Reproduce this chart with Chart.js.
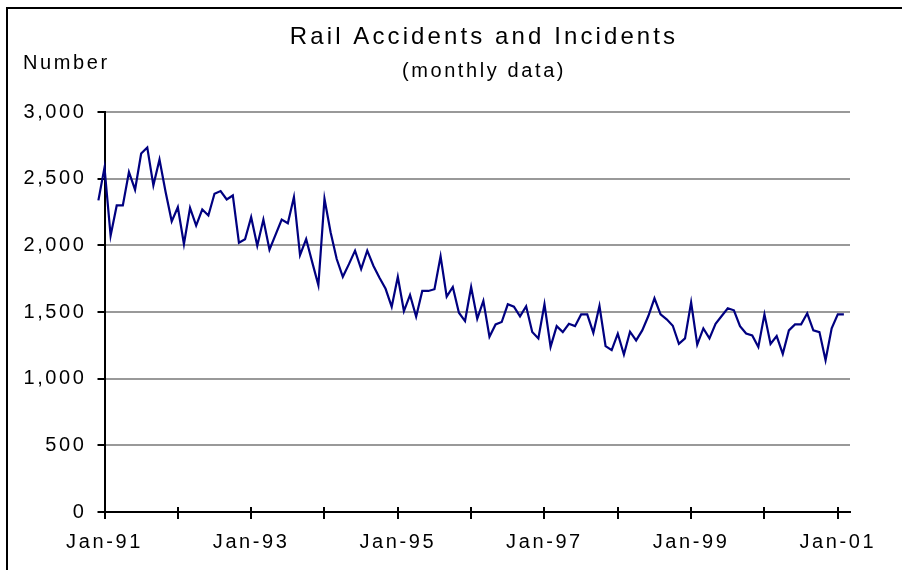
<!DOCTYPE html>
<html>
<head>
<meta charset="utf-8">
<title>Rail Accidents and Incidents</title>
<script src="https://cdn.jsdelivr.net/npm/chart.js@4.4.1/dist/chart.umd.min.js"></script>
<style>
  html, body { margin: 0; padding: 0; background: #fff; }
  #wrap { position: relative; width: 902px; height: 570px; overflow: hidden; }
  #frame { position: absolute; left: 6px; top: 7px; right: -10px; bottom: -10px;
           border-left: 2px solid #000; border-top: 2px solid #000; pointer-events: none; }
  canvas { position: absolute; left: 0; top: 0; }
</style>
</head>
<body>
<div id="wrap">
  <canvas id="chart" width="902" height="570"></canvas>
  <div id="frame"></div>
</div>
<script>
// months counted from Jan-91 (= 0); the series starts one month earlier, Dec-90
const firstMonth = -1;

// monthly counts, Dec-90 .. Feb-01
const accidents = [
  2337,
  2583, 2073, 2299, 2299, 2550, 2417, 2689, 2734, 2450, 2643, 2400, 2180, // 1991
  2286, 2010, 2281, 2148, 2269, 2224, 2387, 2407, 2344, 2374, 2020, 2045, // 1992
  2211, 1997, 2193, 1967, 2080, 2193, 2166, 2362, 1927, 2047, 1872, 1701, // 1993
  2349, 2098, 1897, 1764, 1859, 1960, 1822, 1960, 1847, 1757, 1674, 1539, // 1994
  1764, 1507, 1628, 1465, 1658, 1658, 1671, 1917, 1615, 1688, 1495, 1432, // 1995
  1688, 1450, 1583, 1314, 1407, 1425, 1558, 1540, 1467, 1543, 1350, 1302, // 1996
  1558, 1238, 1394, 1349, 1412, 1394, 1482, 1482, 1344, 1545, 1244, 1214, // 1997
  1337, 1181, 1352, 1287, 1362, 1470, 1603, 1482, 1445, 1397, 1261, 1302, // 1998
  1572, 1256, 1377, 1302, 1412, 1470, 1528, 1513, 1394, 1339, 1324, 1238, // 1999
  1482, 1261, 1319, 1186, 1362, 1407, 1407, 1490, 1362, 1349, 1138, 1377, // 2000
  1482, 1482                                                              // 2001
];

// one label every two years, tick marks every year
const yearLabels = ['Jan-91', 'Jan-93', 'Jan-95', 'Jan-97', 'Jan-99', 'Jan-01'];

const titleText = 'Rail Accidents and Incidents';
const subtitleText = '(monthly data)';
const unitText = 'Number';

const FONT = '"Liberation Sans", Arial, sans-serif';
const SPACING = 2.6;

const points = accidents.map((v, i) => ({ x: firstMonth + i, y: v }));

// title, subtitle, unit label and the upper half of the x tick marks
const headings = {
  id: 'headings',
  beforeDraw(chart) {
    chart.ctx.letterSpacing = SPACING + 'px';
  },
  afterDraw(chart) {
    const ctx = chart.ctx;
    const x = chart.scales.x;
    ctx.save();
    ctx.strokeStyle = '#000';
    ctx.lineWidth = 2;
    x.ticks.forEach(t => {
      const px = Math.round(x.getPixelForValue(t.value));
      ctx.beginPath();
      ctx.moveTo(px, x.top - 5);
      ctx.lineTo(px, x.top);
      ctx.stroke();
    });

    ctx.fillStyle = '#000';
    ctx.textBaseline = 'middle';
    ctx.textAlign = 'center';
    ctx.letterSpacing = '3.1px';
    ctx.font = '24px ' + FONT;
    ctx.fillText(titleText, 484, 37.5);

    ctx.letterSpacing = SPACING + 'px';
    ctx.font = '20px ' + FONT;
    ctx.fillText(subtitleText, 484, 71);

    ctx.textAlign = 'left';
    ctx.fillText(unitText, 23, 63);
    ctx.restore();
  }
};

new Chart(document.getElementById('chart'), {
  type: 'line',
  data: {
    datasets: [{
      data: points,
      borderColor: '#000080',
      borderWidth: 2.2,
      pointRadius: 0,
      tension: 0,
      clip: false
    }]
  },
  options: {
    responsive: false,
    animation: false,
    devicePixelRatio: 1,
    layout: { padding: { top: 112, right: 52, bottom: 5, left: 0 } },
    plugins: {
      legend: { display: false },
      tooltip: { enabled: false }
    },
    scales: {
      x: {
        type: 'linear',
        min: 0,
        max: 122,
        grid: { drawOnChartArea: false, color: '#000', lineWidth: 2, tickLength: 7 },
        border: { color: '#000', width: 2 },
        ticks: {
          stepSize: 12,
          includeBounds: false,
          autoSkip: false,
          maxRotation: 0,
          padding: 11,
          color: '#000',
          font: { family: FONT, size: 20 },
          callback: v => (v % 24 === 0 ? yearLabels[v / 24] : '')
        }
      },
      y: {
        min: 0,
        max: 3000,
        afterFit: scale => { scale.width = 104.5; },
        grid: { color: '#999', lineWidth: 2, tickColor: '#000', tickWidth: 2, tickLength: 7 },
        border: { color: '#000', width: 2 },
        ticks: {
          stepSize: 500,
          padding: 11,
          color: '#000',
          font: { family: FONT, size: 20 },
          callback: v => v.toLocaleString('en-US')
        }
      }
    }
  },
  plugins: [headings]
});
</script>
</body>
</html>
